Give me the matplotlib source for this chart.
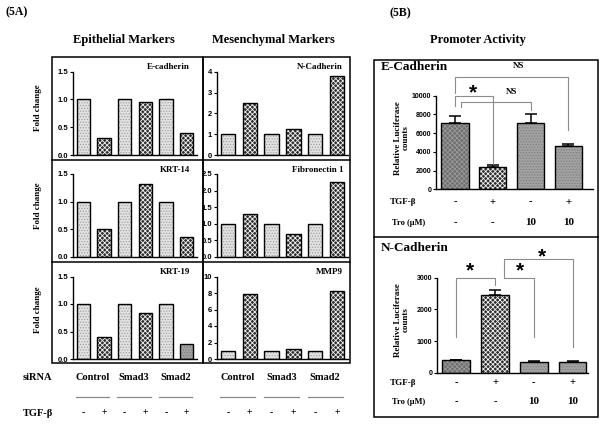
import matplotlib.pyplot as plt
import matplotlib.transforms as mtransforms
from matplotlib.patches import Rectangle

# ---- data ----
sirna_groups = ["Control", "Smad3", "Smad2"]
tgf_5a = ["-", "+", "-", "+", "-", "+"]

epi_names = ["E-cadherin", "KRT-14", "KRT-19"]
ecad_fold = [1.0, 0.30, 1.0, 0.95, 1.0, 0.40]
krt14_fold = [1.0, 0.50, 1.0, 1.31, 1.0, 0.35]
krt19_fold = [1.0, 0.40, 1.0, 0.84, 1.0, 0.28]

mes_names = ["N-Cadherin", "Fibronectin 1", "MMP9"]
ncad_fold = [1.0, 2.5, 1.0, 1.25, 1.0, 3.8]
fn1_fold = [1.0, 1.3, 1.0, 0.70, 1.0, 2.25]
mmp9_fold = [1.0, 7.9, 1.0, 1.2, 1.0, 8.3]

epi_ticks = [0.0, 0.5, 1.0, 1.5]
ncad_ticks = [0, 1, 2, 3, 4]
fn1_ticks = [0.0, 0.5, 1.0, 1.5, 2.0, 2.5]
mmp9_ticks = [0, 2, 4, 6, 8, 10]

promoter_names = ["E-Cadherin", "N-Cadherin"]
tgf_5b = ["-", "+", "-", "+"]
tro_5b = ["-", "-", "10", "10"]
ecad_luc = [7100, 2350, 7050, 4650]
ecad_luc_err = [700, 200, 1000, 150]
ncad_luc = [390, 2450, 340, 340]
ncad_luc_err = [15, 150, 20, 15]
ecad_luc_ticks = [0, 2000, 4000, 6000, 8000, 10000]
ncad_luc_ticks = [0, 1000, 2000, 3000]

# ---- styles ----
SERIF = "Liberation Serif"
SANS = "Liberation Sans"
plt.rcParams["hatch.linewidth"] = 0.6

LIGHT = dict(face="#e2e2e2", hatch="......", hcol="#a0a0a0")
DARK = dict(face="#2e2e2e", hatch="xxxxxxx", hcol="#f2f2f2")
MID = dict(face="#a2a2a2", hatch="......", hcol="#7e7e7e")
DENSE = dict(face="#6e6e6e", hatch="xxxxxxx", hcol="#9a9a9a")
BRACKET = "#8c8c8c"

W, H = 600, 425
fig = plt.figure(figsize=(6, 4.25), dpi=100)


def fx(x):
    return x / W


def fy(y):
    return 1 - y / H


def px_axes(x0, y0, x1, y1):
    return fig.add_axes([fx(x0), fy(y1), (x1 - x0) / W, (y1 - y0) / H])


def ftext(x, y, s, size, ha="center", family=SERIF, **kw):
    fig.text(fx(x), fy(y), s, fontsize=size, ha=ha, va="center",
             family=family, fontweight="bold", **kw)


def box(x0, y0, x1, y1):
    fig.patches.append(Rectangle((fx(x0), fy(y1)), (x1 - x0) / W, (y1 - y0) / H,
                                 transform=fig.transFigure, fill=False,
                                 edgecolor="black", linewidth=1.1))


def style_axes(ax, ticks, labels, size):
    for side in ("top", "right"):
        ax.spines[side].set_visible(False)
    for side in ("left", "bottom"):
        ax.spines[side].set_linewidth(1.0)
    ax.set_xticks([])
    ax.set_yticks(ticks)
    ax.set_yticklabels(labels)
    ax.set_ylim(ticks[0], ticks[-1])
    ax.tick_params(axis="y", length=2.5, width=0.8, pad=1, labelsize=size)
    for lab in ax.get_yticklabels():
        lab.set_fontweight("bold")
        lab.set_family(SANS)
    ax.patch.set_alpha(0)


def draw_bars(ax, vals, styles, width, err=None):
    xs = list(range(len(vals)))
    for x, v, st in zip(xs, vals, styles):
        ax.bar(x, v, width, color=st["face"], edgecolor=st["hcol"],
               hatch=st["hatch"], linewidth=0)
        ax.bar(x, v, width, fill=False, edgecolor="black", linewidth=1.0)
    if err is not None:
        ax.errorbar(xs, vals, yerr=[[0] * len(vals), err], fmt="none",
                    ecolor="black", elinewidth=1.1, capsize=4.5, capthick=1.1)
    return xs


def bracket(ax, x1, x2, ytop, y1end, y2end):
    ax.plot([x1, x1, x2, x2], [y1end, ytop, ytop, y2end], color=BRACKET,
            linewidth=0.8, clip_on=False)


# ---- (5A) ----
ftext(5, 12, "(5A)", 8.5, ha="left")
ftext(124, 40, "Epithelial Markers", 9)
ftext(273, 40, "Mesenchymal Markers", 9)
box(52, 57, 203, 363)
box(203, 57, 350, 363)
for yb in (160, 262):
    fig.add_artist(plt.Line2D([fx(52), fx(350)], [fy(yb), fy(yb)],
                              color="black", linewidth=1.1))

rows = [(71.7, 155), (174, 256.7), (276.5, 359)]
label_y = [67, 170, 272]
fold_y = [108, 206, 310]
pair_styles = [LIGHT, DARK] * 3
epi_vals = [ecad_fold, krt14_fold, krt19_fold]
mes_vals = [ncad_fold, fn1_fold, mmp9_fold]
mes_ticks = [ncad_ticks, fn1_ticks, mmp9_ticks]

bottom_axes = []
for i, (y0, y1) in enumerate(rows):
    ax = px_axes(73, y0, 197, y1)
    styles = list(pair_styles)
    if i == 2:
        styles[-1] = MID
    draw_bars(ax, epi_vals[i], styles, 0.66)
    ax.set_xlim(-0.5, 5.5)
    style_axes(ax, epi_ticks, [f"{t:.1f}" for t in epi_ticks], 5.5)
    ftext(190, label_y[i], epi_names[i], 6.5, ha="right")
    ftext(38, fold_y[i], "Fold change", 6.5, rotation=90)

    ax2 = px_axes(217, y0, 348, y1)
    draw_bars(ax2, mes_vals[i], pair_styles, 0.66)
    ax2.set_xlim(-0.5, 5.5)
    t = mes_ticks[i]
    style_axes(ax2, t, [f"{v:.1f}" if isinstance(v, float) else str(v) for v in t], 5.5)
    ftext(343, label_y[i], mes_names[i], 6.5, ha="right")
    if i == 2:
        bottom_axes = [ax, ax2]

ftext(23, 377, "siRNA", 7.5, ha="left")
ftext(23, 413, "TGF-β", 7.5, ha="left")
for ax in bottom_axes:
    tr = mtransforms.blended_transform_factory(ax.transData, fig.transFigure)
    for g, name in enumerate(sirna_groups):
        c = 2 * g + 0.45
        ax.text(c, fy(377), name, transform=tr, fontsize=7.5, ha="center",
                va="center", family=SERIF, fontweight="bold")
        ax.plot([c - 0.8, c + 0.8], [fy(397), fy(397)], transform=tr,
                color="#8a8a8a", linewidth=0.9, clip_on=False)
    for x, s in enumerate(tgf_5a):
        ax.text(x, fy(413), s, transform=tr, fontsize=7, ha="center",
                va="center", family=SERIF, fontweight="bold")

# ---- (5B) ----
ftext(389, 13, "(5B)", 8.5, ha="left")
ftext(478, 40, "Promoter Activity", 9)
box(374, 60, 598, 417)
fig.add_artist(plt.Line2D([fx(374), fx(598)], [fy(237), fy(237)],
                          color="black", linewidth=1.1))

luc_styles = [DENSE, DARK, MID, MID]

# E-Cadherin promoter
axe = px_axes(436, 95.7, 593, 189.3)
draw_bars(axe, ecad_luc, luc_styles, 0.72, ecad_luc_err)
axe.set_xlim(-0.5, 3.65)
style_axes(axe, ecad_luc_ticks, [str(t) for t in ecad_luc_ticks], 5)
bracket(axe, 0, 1, 10000, 8900, 2650)
bracket(axe, 0.15, 2, 9360, 8820, 8470)
bracket(axe, 0, 3, 12030, 10250, 6330)
axe.text(0.48, 10300, "*", fontsize=15, ha="center", va="center",
         family=SANS, fontweight="bold")
axe.text(1.5, 10420, "NS", fontsize=6.5, ha="center", va="center",
         family=SERIF, fontweight="bold")
axe.text(1.68, 13200, "NS", fontsize=6.5, ha="center", va="center",
         family=SERIF, fontweight="bold")
ftext(381, 67, promoter_names[0], 9.5, ha="left")
ftext(402, 138, "Relative Luciferase\ncounts", 6.5, rotation=90,
      multialignment="center", linespacing=1.0)

# N-Cadherin promoter
axn = px_axes(437, 277.7, 588, 372.7)
draw_bars(axn, ncad_luc, luc_styles, 0.72, ncad_luc_err)
axn.set_xlim(-0.5, 3.4)
style_axes(axn, ncad_luc_ticks, [str(t) for t in ncad_luc_ticks], 5)
bracket(axn, 0, 1, 3000, 1140, 2770)
bracket(axn, 1.24, 2, 3000, 3000, 1140)
bracket(axn, 1.24, 3, 3580, 3000, 820)
for sx, sy in [(0.36, 3220), (1.64, 3220), (2.22, 3660)]:
    axn.text(sx, sy, "*", fontsize=15, ha="center", va="center",
             family=SANS, fontweight="bold")
ftext(381, 248, promoter_names[1], 9.5, ha="left")
ftext(402, 320, "Relative Luciferase\ncounts", 6.5, rotation=90,
      multialignment="center", linespacing=1.0)

for ax, ty, ry in [(axe, 202, 223), (axn, 383, 402)]:
    ftext(403, ty, "TGF-β", 6.5)
    ftext(409, ry, "Tro (µM)", 6)
    tr = mtransforms.blended_transform_factory(ax.transData, fig.transFigure)
    for x, (a, b) in enumerate(zip(tgf_5b, tro_5b)):
        ax.text(x, fy(ty), a, transform=tr, fontsize=7.5, ha="center",
                va="center", family=SERIF, fontweight="bold")
        ax.text(x, fy(ry), b, transform=tr, fontsize=8 if b != "-" else 7.5,
                ha="center", va="center", family=SERIF, fontweight="bold")

fig.savefig("out.png", dpi=100)
